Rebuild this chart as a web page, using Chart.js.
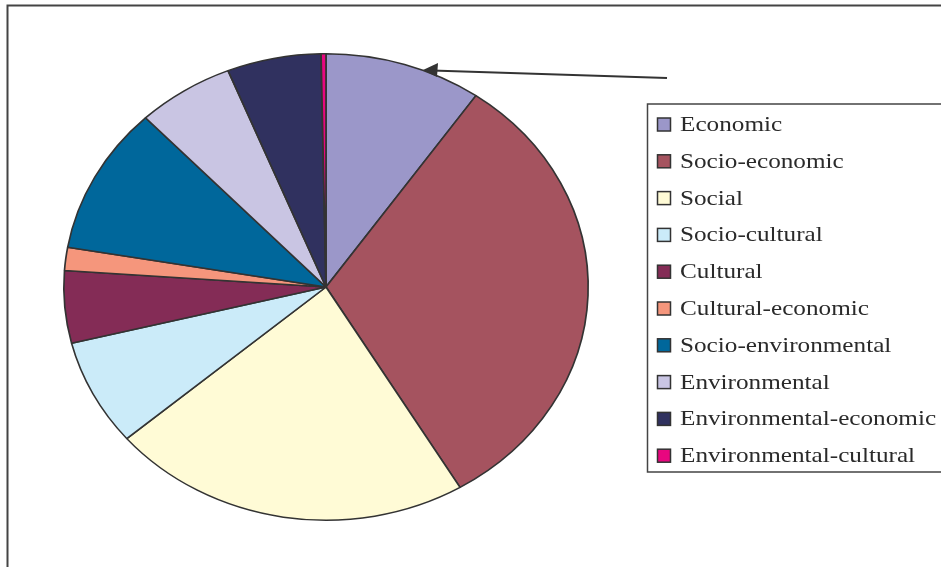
<!DOCTYPE html>
<html>
<head>
<meta charset="utf-8">
<script src="https://cdn.jsdelivr.net/npm/chart.js@4"></script>
<style>
  body { margin: 0; background: #fff; }
</style>
</head>
<body>
<canvas id="myChart" width="941" height="567"></canvas>
<script>
// categories and shares (in %)
const categories = ['Economic', 'Socio-economic', 'Social', 'Socio-cultural', 'Cultural',
  'Cultural-economic', 'Socio-environmental', 'Environmental', 'Environmental-economic',
  'Environmental-cultural'];
const shares = [9.7, 31.8, 22.3, 7.4, 5.0, 1.6, 10.2, 6.0, 5.8, 0.3];
const sliceColors = ['#9b97c9', '#a5535f', '#fffbd6', '#cbebf9', '#842c56',
  '#f5967c', '#00679b', '#c9c5e3', '#30315f', '#e8067f'];

// the original picture is stretched sideways a little
const stretchX = 1.124;
const textStretch = 1.2;
const cx = 326, cy = 287;

const stretchPlugin = {
  id: 'stretch',
  beforeDatasetsDraw(chart) {
    const ctx = chart.ctx;
    ctx.save();
    ctx.translate(cx, cy);
    ctx.scale(stretchX, 1);
    ctx.translate(-cx, -cy);
  },
  afterDatasetsDraw(chart) {
    chart.ctx.restore();
  }
};

const extrasPlugin = {
  id: 'extras',
  afterDraw(chart) {
    const ctx = chart.ctx;
    ctx.save();
    // outer frame
    ctx.strokeStyle = '#444';
    ctx.lineWidth = 2;
    ctx.beginPath();
    ctx.moveTo(7.5, 570);
    ctx.lineTo(7.5, 5.5);
    ctx.lineTo(945, 5.5);
    ctx.stroke();

    // legend box
    ctx.lineWidth = 1.5;
    ctx.strokeStyle = '#444';
    ctx.beginPath();
    ctx.moveTo(945, 104);
    ctx.lineTo(647.5, 104);
    ctx.lineTo(647.5, 472);
    ctx.lineTo(945, 472);
    ctx.stroke();

    for (let i = 0; i < categories.length; i++) {
      const y = 124.5 + i * 36.8;
      ctx.fillStyle = sliceColors[i];
      ctx.fillRect(657.5, y - 6.5, 13, 13);
      ctx.strokeStyle = '#333';
      ctx.lineWidth = 1.5;
      ctx.strokeRect(657.5, y - 6.5, 13, 13);

      ctx.save();
      ctx.translate(680, y);
      ctx.scale(textStretch, 1);
      ctx.fillStyle = '#2a2a2a';
      ctx.font = '21px "Liberation Serif", "Times New Roman", serif';
      ctx.textBaseline = 'middle';
      ctx.fillText(categories[i], 0, 1);
      ctx.restore();
    }

    // arrow pointing at the pie
    ctx.strokeStyle = '#333';
    ctx.lineWidth = 2;
    ctx.beginPath();
    ctx.moveTo(667, 78);
    ctx.lineTo(432, 70.5);
    ctx.stroke();
    ctx.fillStyle = '#333';
    ctx.beginPath();
    ctx.moveTo(423, 70);
    ctx.lineTo(438, 63);
    ctx.lineTo(437, 77);
    ctx.closePath();
    ctx.fill();
    ctx.restore();
  }
};

const ctx = document.getElementById('myChart');

let pieChart = new Chart(ctx, {
  type: 'pie',
  data: {
    labels: categories,
    datasets: [{
      data: shares,
      backgroundColor: sliceColors,
      borderColor: '#333',
      borderWidth: 1.5
    }]
  },
  options: {
    responsive: false,
    animation: false,
    layout: {
      padding: { left: 62, right: 351, top: 53, bottom: 46 }
    },
    plugins: {
      legend: { display: false },
      tooltip: { enabled: false }
    }
  },
  plugins: [stretchPlugin, extrasPlugin]
});
</script>
</body>
</html>
